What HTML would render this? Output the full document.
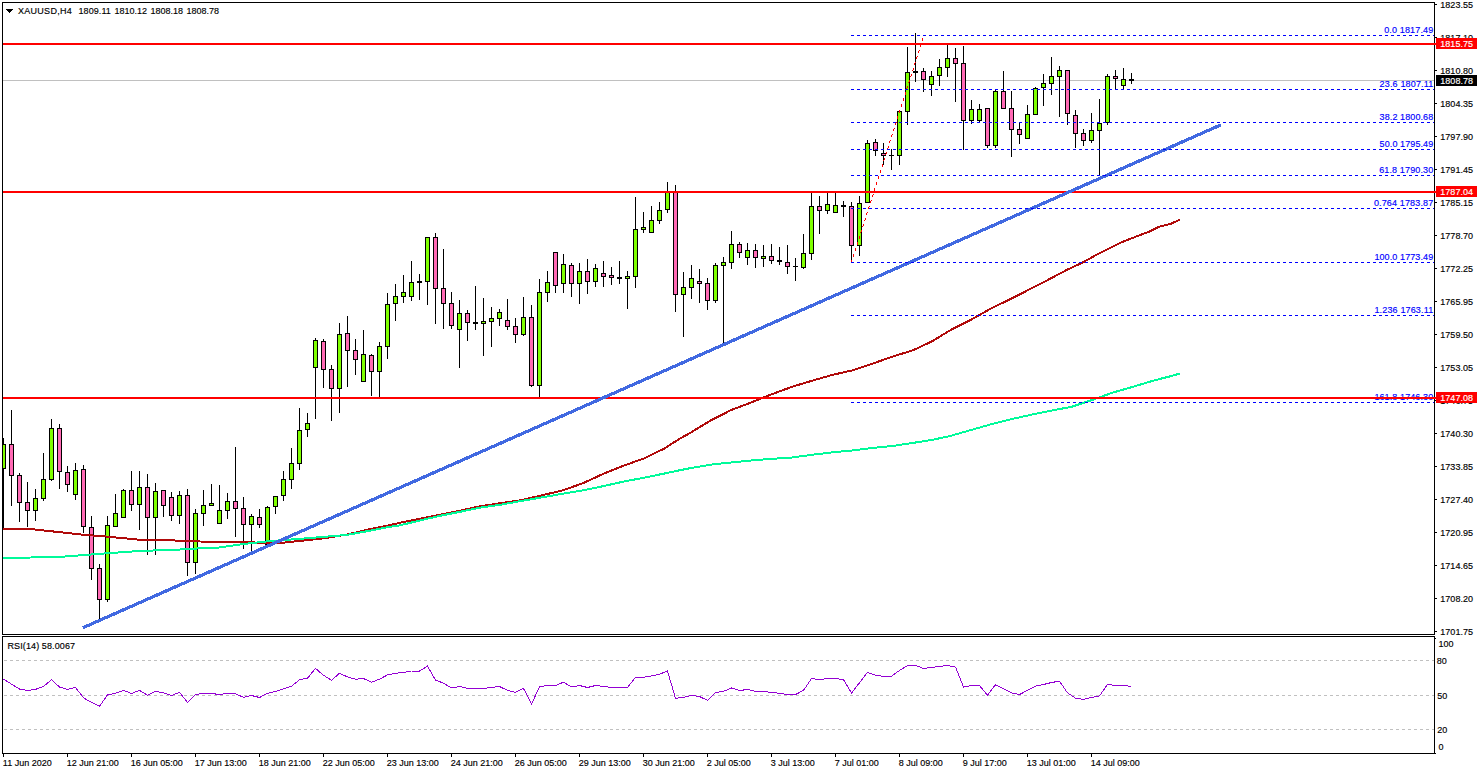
<!DOCTYPE html>
<html><head><meta charset="utf-8"><title>XAUUSD H4</title>
<style>html,body{margin:0;padding:0;background:#fff;width:1480px;height:774px;overflow:hidden;font-family:"Liberation Sans",sans-serif}</style>
</head><body>
<svg width="1480" height="774" viewBox="0 0 1480 774" style="position:absolute;left:0;top:0;display:block">
<defs><clipPath id="cm"><rect x="3" y="3" width="1431" height="631"/></clipPath></defs>
<g shape-rendering="crispEdges">
<rect x="2" y="2" width="1433" height="1" fill="#000"/>
<rect x="2" y="2" width="1" height="633" fill="#000"/>
<rect x="2" y="634" width="1433" height="1" fill="#000"/>
<rect x="1434" y="2" width="1" height="633" fill="#000"/>
<rect x="2" y="636" width="1433" height="1" fill="#000"/>
<rect x="2" y="636" width="1" height="118" fill="#000"/>
<rect x="1434" y="636" width="1" height="118" fill="#000"/>
<rect x="2" y="753" width="1433" height="1" fill="#000"/>
<rect x="1435" y="753" width="1" height="1" fill="#000"/>
<rect x="3" y="80" width="1431" height="1" fill="#C0C0C0"/>
<g clip-path="url(#cm)">
<rect x="3" y="438" width="1" height="90" fill="#000"/>
<rect x="1" y="444" width="5" height="25" fill="#000"/>
<rect x="2" y="445" width="3" height="23" fill="#7FFF00"/>
<rect x="11" y="410" width="1" height="96" fill="#000"/>
<rect x="9" y="444" width="5" height="32" fill="#000"/>
<rect x="10" y="445" width="3" height="30" fill="#FF69B4"/>
<rect x="19" y="473" width="1" height="49" fill="#000"/>
<rect x="17" y="475" width="5" height="28" fill="#000"/>
<rect x="18" y="476" width="3" height="26" fill="#FF69B4"/>
<rect x="27" y="482" width="1" height="45" fill="#000"/>
<rect x="25" y="502" width="5" height="9" fill="#000"/>
<rect x="26" y="503" width="3" height="7" fill="#FF69B4"/>
<rect x="35" y="489" width="1" height="32" fill="#000"/>
<rect x="33" y="498" width="5" height="13" fill="#000"/>
<rect x="34" y="499" width="3" height="11" fill="#7FFF00"/>
<rect x="43" y="453" width="1" height="48" fill="#000"/>
<rect x="41" y="479" width="5" height="20" fill="#000"/>
<rect x="42" y="480" width="3" height="18" fill="#7FFF00"/>
<rect x="51" y="419" width="1" height="62" fill="#000"/>
<rect x="49" y="428" width="5" height="52" fill="#000"/>
<rect x="50" y="429" width="3" height="50" fill="#7FFF00"/>
<rect x="59" y="424" width="1" height="65" fill="#000"/>
<rect x="57" y="428" width="5" height="44" fill="#000"/>
<rect x="58" y="429" width="3" height="42" fill="#FF69B4"/>
<rect x="67" y="466" width="1" height="26" fill="#000"/>
<rect x="65" y="472" width="5" height="13" fill="#000"/>
<rect x="66" y="473" width="3" height="11" fill="#FF69B4"/>
<rect x="75" y="463" width="1" height="37" fill="#000"/>
<rect x="73" y="470" width="5" height="25" fill="#000"/>
<rect x="74" y="471" width="3" height="23" fill="#7FFF00"/>
<rect x="83" y="465" width="1" height="68" fill="#000"/>
<rect x="81" y="469" width="5" height="58" fill="#000"/>
<rect x="82" y="470" width="3" height="56" fill="#FF69B4"/>
<rect x="91" y="516" width="1" height="64" fill="#000"/>
<rect x="89" y="527" width="5" height="42" fill="#000"/>
<rect x="90" y="528" width="3" height="40" fill="#FF69B4"/>
<rect x="99" y="564" width="1" height="55" fill="#000"/>
<rect x="97" y="568" width="5" height="32" fill="#000"/>
<rect x="98" y="569" width="3" height="30" fill="#FF69B4"/>
<rect x="107" y="516" width="1" height="86" fill="#000"/>
<rect x="105" y="525" width="5" height="75" fill="#000"/>
<rect x="106" y="526" width="3" height="73" fill="#7FFF00"/>
<rect x="115" y="494" width="1" height="33" fill="#000"/>
<rect x="113" y="513" width="5" height="14" fill="#000"/>
<rect x="114" y="514" width="3" height="12" fill="#7FFF00"/>
<rect x="123" y="489" width="1" height="29" fill="#000"/>
<rect x="121" y="490" width="5" height="28" fill="#000"/>
<rect x="122" y="491" width="3" height="26" fill="#7FFF00"/>
<rect x="131" y="471" width="1" height="40" fill="#000"/>
<rect x="129" y="490" width="5" height="15" fill="#000"/>
<rect x="130" y="491" width="3" height="13" fill="#FF69B4"/>
<rect x="139" y="471" width="1" height="59" fill="#000"/>
<rect x="137" y="487" width="5" height="18" fill="#000"/>
<rect x="138" y="488" width="3" height="16" fill="#7FFF00"/>
<rect x="147" y="474" width="1" height="81" fill="#000"/>
<rect x="145" y="487" width="5" height="31" fill="#000"/>
<rect x="146" y="488" width="3" height="29" fill="#FF69B4"/>
<rect x="155" y="483" width="1" height="72" fill="#000"/>
<rect x="153" y="491" width="5" height="27" fill="#000"/>
<rect x="154" y="492" width="3" height="25" fill="#7FFF00"/>
<rect x="163" y="490" width="1" height="27" fill="#000"/>
<rect x="161" y="490" width="5" height="16" fill="#000"/>
<rect x="162" y="491" width="3" height="14" fill="#FF69B4"/>
<rect x="171" y="492" width="1" height="29" fill="#000"/>
<rect x="169" y="497" width="5" height="19" fill="#000"/>
<rect x="170" y="498" width="3" height="17" fill="#FF69B4"/>
<rect x="179" y="491" width="1" height="33" fill="#000"/>
<rect x="177" y="495" width="5" height="21" fill="#000"/>
<rect x="178" y="496" width="3" height="19" fill="#7FFF00"/>
<rect x="187" y="489" width="1" height="87" fill="#000"/>
<rect x="185" y="495" width="5" height="68" fill="#000"/>
<rect x="186" y="496" width="3" height="66" fill="#FF69B4"/>
<rect x="195" y="509" width="1" height="65" fill="#000"/>
<rect x="193" y="513" width="5" height="50" fill="#000"/>
<rect x="194" y="514" width="3" height="48" fill="#7FFF00"/>
<rect x="203" y="490" width="1" height="36" fill="#000"/>
<rect x="201" y="505" width="5" height="9" fill="#000"/>
<rect x="202" y="506" width="3" height="7" fill="#7FFF00"/>
<rect x="211" y="484" width="1" height="22" fill="#000"/>
<rect x="209" y="503" width="5" height="3" fill="#000"/>
<rect x="210" y="504" width="3" height="1" fill="#7FFF00"/>
<rect x="219" y="485" width="1" height="39" fill="#000"/>
<rect x="217" y="510" width="5" height="14" fill="#000"/>
<rect x="218" y="511" width="3" height="12" fill="#7FFF00"/>
<rect x="227" y="493" width="1" height="26" fill="#000"/>
<rect x="225" y="501" width="5" height="10" fill="#000"/>
<rect x="226" y="502" width="3" height="8" fill="#7FFF00"/>
<rect x="235" y="447" width="1" height="90" fill="#000"/>
<rect x="233" y="501" width="5" height="8" fill="#000"/>
<rect x="234" y="502" width="3" height="6" fill="#FF69B4"/>
<rect x="243" y="497" width="1" height="52" fill="#000"/>
<rect x="241" y="508" width="5" height="17" fill="#000"/>
<rect x="242" y="509" width="3" height="15" fill="#FF69B4"/>
<rect x="251" y="514" width="1" height="37" fill="#000"/>
<rect x="249" y="516" width="5" height="9" fill="#000"/>
<rect x="250" y="517" width="3" height="7" fill="#7FFF00"/>
<rect x="259" y="509" width="1" height="19" fill="#000"/>
<rect x="257" y="517" width="5" height="8" fill="#000"/>
<rect x="258" y="518" width="3" height="6" fill="#FF69B4"/>
<rect x="267" y="506" width="1" height="39" fill="#000"/>
<rect x="265" y="507" width="5" height="38" fill="#000"/>
<rect x="266" y="508" width="3" height="36" fill="#7FFF00"/>
<rect x="275" y="496" width="1" height="18" fill="#000"/>
<rect x="273" y="496" width="5" height="11" fill="#000"/>
<rect x="274" y="497" width="3" height="9" fill="#7FFF00"/>
<rect x="283" y="471" width="1" height="30" fill="#000"/>
<rect x="281" y="479" width="5" height="17" fill="#000"/>
<rect x="282" y="480" width="3" height="15" fill="#7FFF00"/>
<rect x="291" y="448" width="1" height="41" fill="#000"/>
<rect x="289" y="463" width="5" height="17" fill="#000"/>
<rect x="290" y="464" width="3" height="15" fill="#7FFF00"/>
<rect x="299" y="408" width="1" height="62" fill="#000"/>
<rect x="297" y="430" width="5" height="34" fill="#000"/>
<rect x="298" y="431" width="3" height="32" fill="#7FFF00"/>
<rect x="307" y="413" width="1" height="24" fill="#000"/>
<rect x="305" y="423" width="5" height="7" fill="#000"/>
<rect x="306" y="424" width="3" height="5" fill="#7FFF00"/>
<rect x="315" y="338" width="1" height="81" fill="#000"/>
<rect x="313" y="340" width="5" height="28" fill="#000"/>
<rect x="314" y="341" width="3" height="26" fill="#7FFF00"/>
<rect x="323" y="339" width="1" height="49" fill="#000"/>
<rect x="321" y="341" width="5" height="29" fill="#000"/>
<rect x="322" y="342" width="3" height="27" fill="#FF69B4"/>
<rect x="331" y="365" width="1" height="56" fill="#000"/>
<rect x="329" y="369" width="5" height="20" fill="#000"/>
<rect x="330" y="370" width="3" height="18" fill="#FF69B4"/>
<rect x="339" y="323" width="1" height="90" fill="#000"/>
<rect x="337" y="334" width="5" height="55" fill="#000"/>
<rect x="338" y="335" width="3" height="53" fill="#7FFF00"/>
<rect x="347" y="316" width="1" height="71" fill="#000"/>
<rect x="345" y="333" width="5" height="18" fill="#000"/>
<rect x="346" y="334" width="3" height="16" fill="#FF69B4"/>
<rect x="355" y="339" width="1" height="36" fill="#000"/>
<rect x="353" y="350" width="5" height="10" fill="#000"/>
<rect x="354" y="351" width="3" height="8" fill="#FF69B4"/>
<rect x="363" y="330" width="1" height="52" fill="#000"/>
<rect x="361" y="354" width="5" height="28" fill="#000"/>
<rect x="362" y="355" width="3" height="26" fill="#7FFF00"/>
<rect x="371" y="354" width="1" height="42" fill="#000"/>
<rect x="369" y="355" width="5" height="17" fill="#000"/>
<rect x="370" y="356" width="3" height="15" fill="#FF69B4"/>
<rect x="379" y="342" width="1" height="55" fill="#000"/>
<rect x="377" y="346" width="5" height="26" fill="#000"/>
<rect x="378" y="347" width="3" height="24" fill="#7FFF00"/>
<rect x="387" y="293" width="1" height="66" fill="#000"/>
<rect x="385" y="304" width="5" height="43" fill="#000"/>
<rect x="386" y="305" width="3" height="41" fill="#7FFF00"/>
<rect x="395" y="284" width="1" height="37" fill="#000"/>
<rect x="393" y="296" width="5" height="8" fill="#000"/>
<rect x="394" y="297" width="3" height="6" fill="#7FFF00"/>
<rect x="403" y="275" width="1" height="28" fill="#000"/>
<rect x="401" y="292" width="5" height="5" fill="#000"/>
<rect x="402" y="293" width="3" height="3" fill="#7FFF00"/>
<rect x="411" y="261" width="1" height="40" fill="#000"/>
<rect x="409" y="282" width="5" height="15" fill="#000"/>
<rect x="410" y="283" width="3" height="13" fill="#7FFF00"/>
<rect x="419" y="274" width="1" height="26" fill="#000"/>
<rect x="417" y="281" width="5" height="2" fill="#000"/>
<rect x="427" y="237" width="1" height="68" fill="#000"/>
<rect x="425" y="237" width="5" height="45" fill="#000"/>
<rect x="426" y="238" width="3" height="43" fill="#7FFF00"/>
<rect x="435" y="233" width="1" height="91" fill="#000"/>
<rect x="433" y="237" width="5" height="52" fill="#000"/>
<rect x="434" y="238" width="3" height="50" fill="#FF69B4"/>
<rect x="443" y="249" width="1" height="80" fill="#000"/>
<rect x="441" y="288" width="5" height="16" fill="#000"/>
<rect x="442" y="289" width="3" height="14" fill="#FF69B4"/>
<rect x="451" y="292" width="1" height="37" fill="#000"/>
<rect x="449" y="303" width="5" height="23" fill="#000"/>
<rect x="450" y="304" width="3" height="21" fill="#FF69B4"/>
<rect x="459" y="300" width="1" height="68" fill="#000"/>
<rect x="457" y="313" width="5" height="17" fill="#000"/>
<rect x="458" y="314" width="3" height="15" fill="#7FFF00"/>
<rect x="467" y="310" width="1" height="31" fill="#000"/>
<rect x="465" y="313" width="5" height="10" fill="#000"/>
<rect x="466" y="314" width="3" height="8" fill="#FF69B4"/>
<rect x="475" y="286" width="1" height="44" fill="#000"/>
<rect x="473" y="322" width="5" height="2" fill="#000"/>
<rect x="483" y="298" width="1" height="58" fill="#000"/>
<rect x="481" y="321" width="5" height="3" fill="#000"/>
<rect x="482" y="322" width="3" height="1" fill="#7FFF00"/>
<rect x="491" y="307" width="1" height="40" fill="#000"/>
<rect x="489" y="318" width="5" height="4" fill="#000"/>
<rect x="490" y="319" width="3" height="2" fill="#7FFF00"/>
<rect x="499" y="309" width="1" height="17" fill="#000"/>
<rect x="497" y="312" width="5" height="7" fill="#000"/>
<rect x="498" y="313" width="3" height="5" fill="#7FFF00"/>
<rect x="507" y="299" width="1" height="31" fill="#000"/>
<rect x="505" y="320" width="5" height="7" fill="#000"/>
<rect x="506" y="321" width="3" height="5" fill="#FF69B4"/>
<rect x="515" y="318" width="1" height="25" fill="#000"/>
<rect x="513" y="326" width="5" height="9" fill="#000"/>
<rect x="514" y="327" width="3" height="7" fill="#FF69B4"/>
<rect x="523" y="297" width="1" height="39" fill="#000"/>
<rect x="521" y="317" width="5" height="18" fill="#000"/>
<rect x="522" y="318" width="3" height="16" fill="#7FFF00"/>
<rect x="531" y="305" width="1" height="82" fill="#000"/>
<rect x="529" y="317" width="5" height="69" fill="#000"/>
<rect x="530" y="318" width="3" height="67" fill="#FF69B4"/>
<rect x="539" y="279" width="1" height="118" fill="#000"/>
<rect x="537" y="292" width="5" height="94" fill="#000"/>
<rect x="538" y="293" width="3" height="92" fill="#7FFF00"/>
<rect x="547" y="271" width="1" height="31" fill="#000"/>
<rect x="545" y="282" width="5" height="11" fill="#000"/>
<rect x="546" y="283" width="3" height="9" fill="#7FFF00"/>
<rect x="555" y="252" width="1" height="41" fill="#000"/>
<rect x="553" y="252" width="5" height="34" fill="#000"/>
<rect x="554" y="253" width="3" height="32" fill="#FF69B4"/>
<rect x="563" y="254" width="1" height="39" fill="#000"/>
<rect x="561" y="264" width="5" height="20" fill="#000"/>
<rect x="562" y="265" width="3" height="18" fill="#7FFF00"/>
<rect x="571" y="263" width="1" height="34" fill="#000"/>
<rect x="569" y="265" width="5" height="19" fill="#000"/>
<rect x="570" y="266" width="3" height="17" fill="#FF69B4"/>
<rect x="579" y="263" width="1" height="41" fill="#000"/>
<rect x="577" y="271" width="5" height="13" fill="#000"/>
<rect x="578" y="272" width="3" height="11" fill="#7FFF00"/>
<rect x="587" y="259" width="1" height="35" fill="#000"/>
<rect x="585" y="271" width="5" height="11" fill="#000"/>
<rect x="586" y="272" width="3" height="9" fill="#FF69B4"/>
<rect x="595" y="264" width="1" height="23" fill="#000"/>
<rect x="593" y="268" width="5" height="14" fill="#000"/>
<rect x="594" y="269" width="3" height="12" fill="#7FFF00"/>
<rect x="603" y="261" width="1" height="26" fill="#000"/>
<rect x="601" y="273" width="5" height="4" fill="#000"/>
<rect x="602" y="274" width="3" height="2" fill="#FF69B4"/>
<rect x="611" y="267" width="1" height="18" fill="#000"/>
<rect x="609" y="275" width="5" height="3" fill="#000"/>
<rect x="610" y="276" width="3" height="1" fill="#FF69B4"/>
<rect x="619" y="261" width="1" height="23" fill="#000"/>
<rect x="617" y="277" width="5" height="2" fill="#000"/>
<rect x="627" y="271" width="1" height="38" fill="#000"/>
<rect x="625" y="276" width="5" height="3" fill="#000"/>
<rect x="626" y="277" width="3" height="1" fill="#7FFF00"/>
<rect x="635" y="197" width="1" height="91" fill="#000"/>
<rect x="633" y="229" width="5" height="48" fill="#000"/>
<rect x="634" y="230" width="3" height="46" fill="#7FFF00"/>
<rect x="643" y="212" width="1" height="21" fill="#000"/>
<rect x="641" y="227" width="5" height="3" fill="#000"/>
<rect x="642" y="228" width="3" height="1" fill="#7FFF00"/>
<rect x="651" y="206" width="1" height="27" fill="#000"/>
<rect x="649" y="220" width="5" height="13" fill="#000"/>
<rect x="650" y="221" width="3" height="11" fill="#7FFF00"/>
<rect x="659" y="202" width="1" height="22" fill="#000"/>
<rect x="657" y="210" width="5" height="11" fill="#000"/>
<rect x="658" y="211" width="3" height="9" fill="#7FFF00"/>
<rect x="667" y="182" width="1" height="31" fill="#000"/>
<rect x="665" y="192" width="5" height="18" fill="#000"/>
<rect x="666" y="193" width="3" height="16" fill="#7FFF00"/>
<rect x="675" y="185" width="1" height="127" fill="#000"/>
<rect x="673" y="192" width="5" height="103" fill="#000"/>
<rect x="674" y="193" width="3" height="101" fill="#FF69B4"/>
<rect x="683" y="272" width="1" height="65" fill="#000"/>
<rect x="681" y="287" width="5" height="8" fill="#000"/>
<rect x="682" y="288" width="3" height="6" fill="#7FFF00"/>
<rect x="691" y="265" width="1" height="34" fill="#000"/>
<rect x="689" y="278" width="5" height="10" fill="#000"/>
<rect x="690" y="279" width="3" height="8" fill="#7FFF00"/>
<rect x="699" y="269" width="1" height="34" fill="#000"/>
<rect x="697" y="281" width="5" height="3" fill="#000"/>
<rect x="698" y="282" width="3" height="1" fill="#FF69B4"/>
<rect x="707" y="278" width="1" height="32" fill="#000"/>
<rect x="705" y="283" width="5" height="18" fill="#000"/>
<rect x="706" y="284" width="3" height="16" fill="#FF69B4"/>
<rect x="715" y="263" width="1" height="40" fill="#000"/>
<rect x="713" y="265" width="5" height="36" fill="#000"/>
<rect x="714" y="266" width="3" height="34" fill="#7FFF00"/>
<rect x="723" y="257" width="1" height="86" fill="#000"/>
<rect x="721" y="262" width="5" height="4" fill="#000"/>
<rect x="722" y="263" width="3" height="2" fill="#7FFF00"/>
<rect x="731" y="231" width="1" height="38" fill="#000"/>
<rect x="729" y="244" width="5" height="19" fill="#000"/>
<rect x="730" y="245" width="3" height="17" fill="#7FFF00"/>
<rect x="739" y="242" width="1" height="16" fill="#000"/>
<rect x="737" y="244" width="5" height="9" fill="#000"/>
<rect x="738" y="245" width="3" height="7" fill="#FF69B4"/>
<rect x="747" y="243" width="1" height="22" fill="#000"/>
<rect x="745" y="250" width="5" height="8" fill="#000"/>
<rect x="746" y="251" width="3" height="6" fill="#7FFF00"/>
<rect x="755" y="244" width="1" height="24" fill="#000"/>
<rect x="753" y="250" width="5" height="8" fill="#000"/>
<rect x="754" y="251" width="3" height="6" fill="#FF69B4"/>
<rect x="763" y="245" width="1" height="22" fill="#000"/>
<rect x="761" y="256" width="5" height="3" fill="#000"/>
<rect x="762" y="257" width="3" height="1" fill="#7FFF00"/>
<rect x="771" y="244" width="1" height="20" fill="#000"/>
<rect x="769" y="256" width="5" height="5" fill="#000"/>
<rect x="770" y="257" width="3" height="3" fill="#FF69B4"/>
<rect x="779" y="247" width="1" height="18" fill="#000"/>
<rect x="777" y="260" width="5" height="2" fill="#000"/>
<rect x="787" y="245" width="1" height="29" fill="#000"/>
<rect x="785" y="262" width="5" height="5" fill="#000"/>
<rect x="786" y="263" width="3" height="3" fill="#FF69B4"/>
<rect x="795" y="258" width="1" height="23" fill="#000"/>
<rect x="793" y="266" width="5" height="1" fill="#000"/>
<rect x="803" y="234" width="1" height="35" fill="#000"/>
<rect x="801" y="253" width="5" height="15" fill="#000"/>
<rect x="802" y="254" width="3" height="13" fill="#7FFF00"/>
<rect x="811" y="193" width="1" height="67" fill="#000"/>
<rect x="809" y="206" width="5" height="48" fill="#000"/>
<rect x="810" y="207" width="3" height="46" fill="#7FFF00"/>
<rect x="819" y="196" width="1" height="38" fill="#000"/>
<rect x="817" y="206" width="5" height="5" fill="#000"/>
<rect x="818" y="207" width="3" height="3" fill="#FF69B4"/>
<rect x="827" y="193" width="1" height="21" fill="#000"/>
<rect x="825" y="204" width="5" height="7" fill="#000"/>
<rect x="826" y="205" width="3" height="5" fill="#7FFF00"/>
<rect x="835" y="193" width="1" height="20" fill="#000"/>
<rect x="833" y="205" width="5" height="8" fill="#000"/>
<rect x="834" y="206" width="3" height="6" fill="#7FFF00"/>
<rect x="843" y="201" width="1" height="16" fill="#000"/>
<rect x="841" y="205" width="5" height="2" fill="#000"/>
<rect x="851" y="202" width="1" height="60" fill="#000"/>
<rect x="849" y="206" width="5" height="40" fill="#000"/>
<rect x="850" y="207" width="3" height="38" fill="#FF69B4"/>
<rect x="859" y="196" width="1" height="60" fill="#000"/>
<rect x="857" y="203" width="5" height="43" fill="#000"/>
<rect x="858" y="204" width="3" height="41" fill="#7FFF00"/>
<rect x="867" y="140" width="1" height="63" fill="#000"/>
<rect x="865" y="143" width="5" height="60" fill="#000"/>
<rect x="866" y="144" width="3" height="58" fill="#7FFF00"/>
<rect x="875" y="139" width="1" height="17" fill="#000"/>
<rect x="873" y="142" width="5" height="9" fill="#000"/>
<rect x="874" y="143" width="3" height="7" fill="#FF69B4"/>
<rect x="883" y="143" width="1" height="22" fill="#000"/>
<rect x="881" y="153" width="5" height="3" fill="#000"/>
<rect x="882" y="154" width="3" height="1" fill="#FF69B4"/>
<rect x="891" y="149" width="1" height="21" fill="#000"/>
<rect x="889" y="155" width="5" height="1" fill="#000"/>
<rect x="899" y="111" width="1" height="54" fill="#000"/>
<rect x="897" y="111" width="5" height="45" fill="#000"/>
<rect x="898" y="112" width="3" height="43" fill="#7FFF00"/>
<rect x="907" y="47" width="1" height="78" fill="#000"/>
<rect x="905" y="72" width="5" height="40" fill="#000"/>
<rect x="906" y="73" width="3" height="38" fill="#7FFF00"/>
<rect x="915" y="33" width="1" height="49" fill="#000"/>
<rect x="913" y="71" width="5" height="2" fill="#000"/>
<rect x="923" y="68" width="1" height="24" fill="#000"/>
<rect x="921" y="71" width="5" height="9" fill="#000"/>
<rect x="922" y="72" width="3" height="7" fill="#FF69B4"/>
<rect x="931" y="71" width="1" height="25" fill="#000"/>
<rect x="929" y="76" width="5" height="9" fill="#000"/>
<rect x="930" y="77" width="3" height="7" fill="#7FFF00"/>
<rect x="939" y="59" width="1" height="27" fill="#000"/>
<rect x="937" y="67" width="5" height="9" fill="#000"/>
<rect x="938" y="68" width="3" height="7" fill="#7FFF00"/>
<rect x="947" y="45" width="1" height="32" fill="#000"/>
<rect x="945" y="58" width="5" height="10" fill="#000"/>
<rect x="946" y="59" width="3" height="8" fill="#7FFF00"/>
<rect x="955" y="48" width="1" height="54" fill="#000"/>
<rect x="953" y="58" width="5" height="6" fill="#000"/>
<rect x="954" y="59" width="3" height="4" fill="#FF69B4"/>
<rect x="963" y="46" width="1" height="104" fill="#000"/>
<rect x="961" y="63" width="5" height="58" fill="#000"/>
<rect x="962" y="64" width="3" height="56" fill="#FF69B4"/>
<rect x="971" y="100" width="1" height="24" fill="#000"/>
<rect x="969" y="109" width="5" height="12" fill="#000"/>
<rect x="970" y="110" width="3" height="10" fill="#7FFF00"/>
<rect x="979" y="104" width="1" height="18" fill="#000"/>
<rect x="977" y="109" width="5" height="12" fill="#000"/>
<rect x="978" y="110" width="3" height="10" fill="#7FFF00"/>
<rect x="987" y="108" width="1" height="40" fill="#000"/>
<rect x="985" y="108" width="5" height="38" fill="#000"/>
<rect x="986" y="109" width="3" height="36" fill="#FF69B4"/>
<rect x="995" y="90" width="1" height="58" fill="#000"/>
<rect x="993" y="91" width="5" height="55" fill="#000"/>
<rect x="994" y="92" width="3" height="53" fill="#7FFF00"/>
<rect x="1003" y="71" width="1" height="38" fill="#000"/>
<rect x="1001" y="91" width="5" height="18" fill="#000"/>
<rect x="1002" y="92" width="3" height="16" fill="#FF69B4"/>
<rect x="1011" y="91" width="1" height="66" fill="#000"/>
<rect x="1009" y="108" width="5" height="22" fill="#000"/>
<rect x="1010" y="109" width="3" height="20" fill="#FF69B4"/>
<rect x="1019" y="123" width="1" height="21" fill="#000"/>
<rect x="1017" y="129" width="5" height="6" fill="#000"/>
<rect x="1018" y="130" width="3" height="4" fill="#FF69B4"/>
<rect x="1027" y="105" width="1" height="34" fill="#000"/>
<rect x="1025" y="114" width="5" height="25" fill="#000"/>
<rect x="1026" y="115" width="3" height="23" fill="#7FFF00"/>
<rect x="1035" y="87" width="1" height="28" fill="#000"/>
<rect x="1033" y="88" width="5" height="27" fill="#000"/>
<rect x="1034" y="89" width="3" height="25" fill="#7FFF00"/>
<rect x="1043" y="74" width="1" height="32" fill="#000"/>
<rect x="1041" y="83" width="5" height="5" fill="#000"/>
<rect x="1042" y="84" width="3" height="3" fill="#7FFF00"/>
<rect x="1051" y="57" width="1" height="38" fill="#000"/>
<rect x="1049" y="76" width="5" height="8" fill="#000"/>
<rect x="1050" y="77" width="3" height="6" fill="#7FFF00"/>
<rect x="1059" y="66" width="1" height="51" fill="#000"/>
<rect x="1057" y="70" width="5" height="7" fill="#000"/>
<rect x="1058" y="71" width="3" height="5" fill="#7FFF00"/>
<rect x="1067" y="70" width="1" height="55" fill="#000"/>
<rect x="1065" y="70" width="5" height="44" fill="#000"/>
<rect x="1066" y="71" width="3" height="42" fill="#FF69B4"/>
<rect x="1075" y="110" width="1" height="38" fill="#000"/>
<rect x="1073" y="115" width="5" height="19" fill="#000"/>
<rect x="1074" y="116" width="3" height="17" fill="#FF69B4"/>
<rect x="1083" y="129" width="1" height="17" fill="#000"/>
<rect x="1081" y="133" width="5" height="8" fill="#000"/>
<rect x="1082" y="134" width="3" height="6" fill="#FF69B4"/>
<rect x="1091" y="113" width="1" height="30" fill="#000"/>
<rect x="1089" y="130" width="5" height="11" fill="#000"/>
<rect x="1090" y="131" width="3" height="9" fill="#7FFF00"/>
<rect x="1099" y="99" width="1" height="76" fill="#000"/>
<rect x="1097" y="123" width="5" height="8" fill="#000"/>
<rect x="1098" y="124" width="3" height="6" fill="#7FFF00"/>
<rect x="1107" y="74" width="1" height="51" fill="#000"/>
<rect x="1105" y="76" width="5" height="47" fill="#000"/>
<rect x="1106" y="77" width="3" height="45" fill="#7FFF00"/>
<rect x="1115" y="70" width="1" height="20" fill="#000"/>
<rect x="1113" y="76" width="5" height="3" fill="#000"/>
<rect x="1114" y="77" width="3" height="1" fill="#FF69B4"/>
<rect x="1123" y="68" width="1" height="22" fill="#000"/>
<rect x="1121" y="79" width="5" height="7" fill="#000"/>
<rect x="1122" y="80" width="3" height="5" fill="#7FFF00"/>
<rect x="1131" y="73" width="1" height="11" fill="#000"/>
<rect x="1129" y="79" width="5" height="2" fill="#000"/>
</g>
</g>
<g shape-rendering="crispEdges" fill="none" clip-path="url(#cm)">
<polyline points="3.0,528.8 35.0,529.5 83.0,534.7 107.0,536.6 139.0,539.7 179.0,540.6 200.0,541.5 243.0,542.0 267.0,543.0 283.0,542.7 299.0,541.0 323.0,538.4 347.0,534.6 371.0,528.9 390.0,525.1 400.0,522.7 420.6,518.7 441.0,514.6 461.0,510.5 481.0,506.1 502.0,503.0 522.0,500.0 542.0,495.3 563.0,490.3 583.0,483.2 603.0,474.0 623.0,465.9 644.0,458.4 664.0,448.7 680.0,438.5 690.0,433.0 711.0,420.3 731.0,410.1 751.0,402.6 771.0,394.5 792.0,386.8 812.0,380.7 832.0,375.0 853.0,370.2 873.0,363.5 893.0,356.4 913.0,350.3 932.0,341.3 950.0,330.4 971.0,319.7 991.0,308.5 1011.0,298.8 1031.0,288.6 1040.0,284.1 1053.6,276.9 1067.1,269.8 1083.4,262.1 1097.0,254.5 1107.8,249.1 1121.4,242.3 1135.0,237.0 1148.5,231.9 1159.4,226.7 1170.3,224.0 1180.0,219.7" stroke="#B00A0A" stroke-width="2" stroke-linejoin="round"/>
<polyline points="3.0,558.0 59.0,557.0 107.0,553.3 139.0,551.0 179.0,549.6 190.0,548.8 219.0,547.5 243.0,544.1 267.0,541.4 299.0,538.9 323.0,536.9 347.0,534.9 371.0,530.5 385.0,527.6 400.0,525.3 420.6,520.3 441.0,515.6 461.0,511.6 481.0,507.5 502.0,504.5 522.0,500.8 542.0,497.4 563.0,493.7 583.0,490.3 603.0,486.2 623.0,481.7 644.0,477.7 664.0,473.6 680.0,470.2 690.0,468.2 711.0,464.6 731.0,462.5 751.0,460.5 771.0,458.9 792.0,457.5 812.0,454.8 832.0,452.4 853.0,450.4 873.0,447.9 893.0,445.9 913.0,442.9 932.0,439.9 950.0,436.0 971.0,430.0 991.0,424.3 1011.0,419.2 1031.0,414.8 1052.0,410.5 1072.0,406.7 1092.0,400.0 1113.0,392.5 1133.0,386.8 1153.0,380.7 1173.0,375.6 1180.0,373.5" stroke="#00FA9A" stroke-width="2" stroke-linejoin="round"/>
<rect x="3" y="43" width="1431" height="2" fill="#FF0000"/>
<rect x="3" y="191" width="1431" height="2" fill="#FF0000"/>
<rect x="3" y="397" width="1431" height="2" fill="#FF0000"/>
<line x1="83" y1="627.7" x2="1221" y2="124.8" stroke="#4169E1" stroke-width="3.2"/>
<line x1="851" y1="35.5" x2="1434" y2="35.5" stroke="#0000FF" stroke-width="1" stroke-dasharray="3,3"/>
<line x1="851" y1="89.5" x2="1434" y2="89.5" stroke="#0000FF" stroke-width="1" stroke-dasharray="3,3"/>
<line x1="851" y1="122.5" x2="1434" y2="122.5" stroke="#0000FF" stroke-width="1" stroke-dasharray="3,3"/>
<line x1="851" y1="149.5" x2="1434" y2="149.5" stroke="#0000FF" stroke-width="1" stroke-dasharray="3,3"/>
<line x1="851" y1="175.5" x2="1434" y2="175.5" stroke="#0000FF" stroke-width="1" stroke-dasharray="3,3"/>
<line x1="851" y1="208.5" x2="1434" y2="208.5" stroke="#0000FF" stroke-width="1" stroke-dasharray="3,3"/>
<line x1="851" y1="262.5" x2="1434" y2="262.5" stroke="#0000FF" stroke-width="1" stroke-dasharray="3,3"/>
<line x1="851" y1="315.5" x2="1434" y2="315.5" stroke="#0000FF" stroke-width="1" stroke-dasharray="3,3"/>
<line x1="851" y1="402.5" x2="1434" y2="402.5" stroke="#0000FF" stroke-width="1" stroke-dasharray="3,3"/>
<rect x="922" y="38" width="1" height="1" fill="#FF0000"/>
<rect x="922" y="39" width="1" height="1" fill="#FF0000"/>
<rect x="922" y="40" width="1" height="1" fill="#FF0000"/>
<rect x="920" y="44" width="1" height="1" fill="#FF0000"/>
<rect x="920" y="45" width="1" height="1" fill="#FF0000"/>
<rect x="920" y="46" width="1" height="1" fill="#FF0000"/>
<rect x="919" y="50" width="1" height="1" fill="#FF0000"/>
<rect x="918" y="51" width="1" height="1" fill="#FF0000"/>
<rect x="918" y="52" width="1" height="1" fill="#FF0000"/>
<rect x="917" y="56" width="1" height="1" fill="#FF0000"/>
<rect x="916" y="57" width="1" height="1" fill="#FF0000"/>
<rect x="916" y="58" width="1" height="1" fill="#FF0000"/>
<rect x="915" y="62" width="1" height="1" fill="#FF0000"/>
<rect x="914" y="63" width="1" height="1" fill="#FF0000"/>
<rect x="914" y="64" width="1" height="1" fill="#FF0000"/>
<rect x="913" y="68" width="1" height="1" fill="#FF0000"/>
<rect x="913" y="69" width="1" height="1" fill="#FF0000"/>
<rect x="912" y="70" width="1" height="1" fill="#FF0000"/>
<rect x="911" y="74" width="1" height="1" fill="#FF0000"/>
<rect x="911" y="75" width="1" height="1" fill="#FF0000"/>
<rect x="910" y="76" width="1" height="1" fill="#FF0000"/>
<rect x="909" y="80" width="1" height="1" fill="#FF0000"/>
<rect x="909" y="81" width="1" height="1" fill="#FF0000"/>
<rect x="908" y="82" width="1" height="1" fill="#FF0000"/>
<rect x="907" y="86" width="1" height="1" fill="#FF0000"/>
<rect x="907" y="87" width="1" height="1" fill="#FF0000"/>
<rect x="906" y="88" width="1" height="1" fill="#FF0000"/>
<rect x="905" y="92" width="1" height="1" fill="#FF0000"/>
<rect x="905" y="93" width="1" height="1" fill="#FF0000"/>
<rect x="905" y="94" width="1" height="1" fill="#FF0000"/>
<rect x="903" y="98" width="1" height="1" fill="#FF0000"/>
<rect x="903" y="99" width="1" height="1" fill="#FF0000"/>
<rect x="903" y="100" width="1" height="1" fill="#FF0000"/>
<rect x="901" y="104" width="1" height="1" fill="#FF0000"/>
<rect x="901" y="105" width="1" height="1" fill="#FF0000"/>
<rect x="901" y="106" width="1" height="1" fill="#FF0000"/>
<rect x="899" y="110" width="1" height="1" fill="#FF0000"/>
<rect x="899" y="111" width="1" height="1" fill="#FF0000"/>
<rect x="899" y="112" width="1" height="1" fill="#FF0000"/>
<rect x="897" y="116" width="1" height="1" fill="#FF0000"/>
<rect x="897" y="117" width="1" height="1" fill="#FF0000"/>
<rect x="897" y="118" width="1" height="1" fill="#FF0000"/>
<rect x="896" y="122" width="1" height="1" fill="#FF0000"/>
<rect x="895" y="123" width="1" height="1" fill="#FF0000"/>
<rect x="895" y="124" width="1" height="1" fill="#FF0000"/>
<rect x="894" y="128" width="1" height="1" fill="#FF0000"/>
<rect x="893" y="129" width="1" height="1" fill="#FF0000"/>
<rect x="893" y="130" width="1" height="1" fill="#FF0000"/>
<rect x="892" y="134" width="1" height="1" fill="#FF0000"/>
<rect x="891" y="135" width="1" height="1" fill="#FF0000"/>
<rect x="891" y="136" width="1" height="1" fill="#FF0000"/>
<rect x="890" y="140" width="1" height="1" fill="#FF0000"/>
<rect x="889" y="141" width="1" height="1" fill="#FF0000"/>
<rect x="889" y="142" width="1" height="1" fill="#FF0000"/>
<rect x="888" y="146" width="1" height="1" fill="#FF0000"/>
<rect x="888" y="147" width="1" height="1" fill="#FF0000"/>
<rect x="887" y="148" width="1" height="1" fill="#FF0000"/>
<rect x="886" y="152" width="1" height="1" fill="#FF0000"/>
<rect x="886" y="153" width="1" height="1" fill="#FF0000"/>
<rect x="885" y="154" width="1" height="1" fill="#FF0000"/>
<rect x="884" y="158" width="1" height="1" fill="#FF0000"/>
<rect x="884" y="159" width="1" height="1" fill="#FF0000"/>
<rect x="883" y="160" width="1" height="1" fill="#FF0000"/>
<rect x="882" y="164" width="1" height="1" fill="#FF0000"/>
<rect x="882" y="165" width="1" height="1" fill="#FF0000"/>
<rect x="882" y="166" width="1" height="1" fill="#FF0000"/>
<rect x="880" y="170" width="1" height="1" fill="#FF0000"/>
<rect x="880" y="171" width="1" height="1" fill="#FF0000"/>
<rect x="880" y="172" width="1" height="1" fill="#FF0000"/>
<rect x="878" y="176" width="1" height="1" fill="#FF0000"/>
<rect x="878" y="177" width="1" height="1" fill="#FF0000"/>
<rect x="878" y="178" width="1" height="1" fill="#FF0000"/>
<rect x="876" y="182" width="1" height="1" fill="#FF0000"/>
<rect x="876" y="183" width="1" height="1" fill="#FF0000"/>
<rect x="876" y="184" width="1" height="1" fill="#FF0000"/>
<rect x="874" y="188" width="1" height="1" fill="#FF0000"/>
<rect x="874" y="189" width="1" height="1" fill="#FF0000"/>
<rect x="874" y="190" width="1" height="1" fill="#FF0000"/>
<rect x="873" y="194" width="1" height="1" fill="#FF0000"/>
<rect x="872" y="195" width="1" height="1" fill="#FF0000"/>
<rect x="872" y="196" width="1" height="1" fill="#FF0000"/>
<rect x="871" y="200" width="1" height="1" fill="#FF0000"/>
<rect x="870" y="201" width="1" height="1" fill="#FF0000"/>
<rect x="870" y="202" width="1" height="1" fill="#FF0000"/>
<rect x="869" y="206" width="1" height="1" fill="#FF0000"/>
<rect x="868" y="207" width="1" height="1" fill="#FF0000"/>
<rect x="868" y="208" width="1" height="1" fill="#FF0000"/>
<rect x="867" y="212" width="1" height="1" fill="#FF0000"/>
<rect x="866" y="213" width="1" height="1" fill="#FF0000"/>
<rect x="866" y="214" width="1" height="1" fill="#FF0000"/>
<rect x="865" y="218" width="1" height="1" fill="#FF0000"/>
<rect x="865" y="219" width="1" height="1" fill="#FF0000"/>
<rect x="864" y="220" width="1" height="1" fill="#FF0000"/>
<rect x="863" y="224" width="1" height="1" fill="#FF0000"/>
<rect x="863" y="225" width="1" height="1" fill="#FF0000"/>
<rect x="862" y="226" width="1" height="1" fill="#FF0000"/>
<rect x="861" y="230" width="1" height="1" fill="#FF0000"/>
<rect x="861" y="231" width="1" height="1" fill="#FF0000"/>
<rect x="860" y="232" width="1" height="1" fill="#FF0000"/>
<rect x="859" y="236" width="1" height="1" fill="#FF0000"/>
<rect x="859" y="237" width="1" height="1" fill="#FF0000"/>
<rect x="859" y="238" width="1" height="1" fill="#FF0000"/>
<rect x="857" y="242" width="1" height="1" fill="#FF0000"/>
<rect x="857" y="243" width="1" height="1" fill="#FF0000"/>
<rect x="857" y="244" width="1" height="1" fill="#FF0000"/>
<rect x="855" y="248" width="1" height="1" fill="#FF0000"/>
<rect x="855" y="249" width="1" height="1" fill="#FF0000"/>
<rect x="855" y="250" width="1" height="1" fill="#FF0000"/>
<rect x="853" y="254" width="1" height="1" fill="#FF0000"/>
<rect x="853" y="255" width="1" height="1" fill="#FF0000"/>
<rect x="853" y="256" width="1" height="1" fill="#FF0000"/>
<rect x="851" y="260" width="1" height="1" fill="#FF0000"/>
<rect x="851" y="261" width="1" height="1" fill="#FF0000"/>
</g>
<g font-family="Liberation Sans, sans-serif" font-size="9px" stroke-width="0.15" transform="translate(0,-0.3)" fill="#0000FF" stroke="#0000FF" text-anchor="end">
<text x="1433.2" y="33" textLength="49">0.0 1817.49</text>
<text x="1433.2" y="87" textLength="53.6">23.6 1807.11</text>
<text x="1433.2" y="120" textLength="53.6">38.2 1800.68</text>
<text x="1433.2" y="147" textLength="53.6">50.0 1795.49</text>
<text x="1433.2" y="173" textLength="54">61.8 1790.30</text>
<text x="1433.2" y="206" textLength="59.3">0.764 1783.87</text>
<text x="1433.2" y="260" textLength="58.8">100.0 1773.49</text>
<text x="1433.2" y="313" textLength="58.8">1.236 1763.11</text>
<text x="1433.2" y="400" textLength="58.8">161.8 1746.30</text>
</g>
<g shape-rendering="crispEdges">
<rect x="1370" y="397" width="64" height="2" fill="#FF0000"/>
</g>
<g shape-rendering="crispEdges" fill="none">
<line x1="4" y1="660.5" x2="1434" y2="660.5" stroke="#C0C0C0" stroke-width="1" stroke-dasharray="3,3"/>
<line x1="4" y1="695.5" x2="1434" y2="695.5" stroke="#C0C0C0" stroke-width="1" stroke-dasharray="3,3"/>
<line x1="4" y1="729.5" x2="1434" y2="729.5" stroke="#C0C0C0" stroke-width="1" stroke-dasharray="3,3"/>
<polyline points="3.5,679.2 11.5,684.1 19.5,689.0 27.5,690.4 35.5,689.4 43.5,686.5 51.5,679.6 59.5,687.1 67.5,689.4 75.5,687.5 83.5,697.8 91.5,702.4 99.5,706.3 107.5,694.9 115.5,693.3 123.5,690.4 131.5,693.5 139.5,690.4 147.5,695.3 155.5,691.4 163.5,692.9 171.5,695.5 179.5,692.4 187.5,702.4 195.5,694.5 203.5,693.3 211.5,693.3 219.5,694.7 227.5,693.3 235.5,693.9 243.5,697.3 251.5,695.5 259.5,697.5 267.5,693.3 275.5,691.4 283.5,688.8 291.5,686.3 299.5,679.8 307.5,678.2 315.5,668.4 323.5,675.3 331.5,680.2 339.5,673.3 347.5,676.9 355.5,679.2 363.5,678.6 371.5,682.2 379.5,679.2 387.5,674.9 395.5,673.3 403.5,672.4 411.5,671.0 419.5,671.0 427.5,666.1 435.5,680.2 443.5,683.1 451.5,688.0 459.5,686.5 467.5,688.4 475.5,688.4 483.5,688.4 491.5,687.5 499.5,686.5 507.5,690.4 515.5,692.4 523.5,688.4 531.5,704.1 539.5,686.7 547.5,685.5 555.5,685.5 563.5,682.2 571.5,686.9 579.5,685.5 587.5,687.5 595.5,685.5 603.5,686.5 611.5,687.5 619.5,687.5 627.5,687.5 635.5,677.3 643.5,677.3 651.5,675.9 659.5,674.3 667.5,671.0 675.5,698.4 683.5,697.3 691.5,695.5 699.5,696.5 707.5,700.4 715.5,692.5 723.5,691.4 731.5,688.0 739.5,690.6 747.5,689.4 755.5,691.4 763.5,691.4 771.5,692.5 779.5,693.3 787.5,694.5 795.5,694.5 803.5,690.4 811.5,678.6 819.5,679.6 827.5,678.6 835.5,678.6 843.5,679.6 851.5,693.0 859.5,682.7 867.5,672.4 875.5,675.3 883.5,676.3 891.5,676.3 899.5,670.4 907.5,665.5 915.5,665.5 923.5,668.4 931.5,667.5 939.5,666.5 947.5,665.5 955.5,667.1 963.5,687.1 971.5,685.5 979.5,685.5 987.5,695.3 995.5,684.7 1003.5,688.6 1011.5,692.9 1019.5,694.5 1027.5,690.4 1035.5,686.1 1043.5,684.5 1051.5,682.5 1059.5,681.2 1067.5,692.9 1075.5,698.2 1083.5,699.4 1091.5,697.5 1099.5,695.9 1107.5,684.5 1115.5,685.5 1123.5,685.5 1131.5,686.5" stroke="#9400D3" stroke-width="1"/>
</g>
<g shape-rendering="crispEdges">
<rect x="1435" y="4" width="2" height="1" fill="#000"/>
<rect x="1435" y="37" width="2" height="1" fill="#000"/>
<rect x="1435" y="70" width="2" height="1" fill="#000"/>
<rect x="1435" y="103" width="2" height="1" fill="#000"/>
<rect x="1435" y="136" width="2" height="1" fill="#000"/>
<rect x="1435" y="169" width="2" height="1" fill="#000"/>
<rect x="1435" y="202" width="2" height="1" fill="#000"/>
<rect x="1435" y="235" width="2" height="1" fill="#000"/>
<rect x="1435" y="268" width="2" height="1" fill="#000"/>
<rect x="1435" y="301" width="2" height="1" fill="#000"/>
<rect x="1435" y="334" width="2" height="1" fill="#000"/>
<rect x="1435" y="367" width="2" height="1" fill="#000"/>
<rect x="1435" y="400" width="2" height="1" fill="#000"/>
<rect x="1435" y="433" width="2" height="1" fill="#000"/>
<rect x="1435" y="466" width="2" height="1" fill="#000"/>
<rect x="1435" y="499" width="2" height="1" fill="#000"/>
<rect x="1435" y="532" width="2" height="1" fill="#000"/>
<rect x="1435" y="565" width="2" height="1" fill="#000"/>
<rect x="1435" y="598" width="2" height="1" fill="#000"/>
<rect x="1435" y="631" width="2" height="1" fill="#000"/>
<rect x="1435" y="638" width="1" height="1" fill="#000"/>
<rect x="3" y="754" width="1" height="3" fill="#000"/>
<rect x="67" y="754" width="1" height="3" fill="#000"/>
<rect x="131" y="754" width="1" height="3" fill="#000"/>
<rect x="195" y="754" width="1" height="3" fill="#000"/>
<rect x="259" y="754" width="1" height="3" fill="#000"/>
<rect x="323" y="754" width="1" height="3" fill="#000"/>
<rect x="387" y="754" width="1" height="3" fill="#000"/>
<rect x="451" y="754" width="1" height="3" fill="#000"/>
<rect x="515" y="754" width="1" height="3" fill="#000"/>
<rect x="579" y="754" width="1" height="3" fill="#000"/>
<rect x="643" y="754" width="1" height="3" fill="#000"/>
<rect x="707" y="754" width="1" height="3" fill="#000"/>
<rect x="771" y="754" width="1" height="3" fill="#000"/>
<rect x="835" y="754" width="1" height="3" fill="#000"/>
<rect x="899" y="754" width="1" height="3" fill="#000"/>
<rect x="963" y="754" width="1" height="3" fill="#000"/>
<rect x="1027" y="754" width="1" height="3" fill="#000"/>
<rect x="1091" y="754" width="1" height="3" fill="#000"/>
</g>
<g font-family="Liberation Sans, sans-serif" font-size="9px" stroke-width="0.15" transform="translate(0,-0.3)" fill="#000" stroke="#000">
<text x="1440.3" y="8" textLength="32.7">1823.55</text>
<text x="1440.3" y="41" textLength="32.7">1817.10</text>
<text x="1440.3" y="74" textLength="32.7">1810.80</text>
<text x="1440.3" y="107" textLength="32.7">1804.35</text>
<text x="1440.3" y="140" textLength="32.7">1797.90</text>
<text x="1440.3" y="173" textLength="32.7">1791.45</text>
<text x="1440.3" y="206" textLength="32.7">1785.15</text>
<text x="1440.3" y="239" textLength="32.7">1778.70</text>
<text x="1440.3" y="272" textLength="32.7">1772.25</text>
<text x="1440.3" y="305" textLength="32.7">1765.95</text>
<text x="1440.3" y="338" textLength="32.7">1759.50</text>
<text x="1440.3" y="371" textLength="32.7">1753.05</text>
<text x="1440.3" y="404" textLength="32.7">1746.75</text>
<text x="1440.3" y="437" textLength="32.7">1740.30</text>
<text x="1440.3" y="470" textLength="32.7">1733.85</text>
<text x="1440.3" y="503" textLength="32.7">1727.40</text>
<text x="1440.3" y="536" textLength="32.7">1720.95</text>
<text x="1440.3" y="569" textLength="32.7">1714.65</text>
<text x="1440.3" y="602" textLength="32.7">1708.20</text>
<text x="1440.3" y="635" textLength="32.7">1701.75</text>
<text x="1438.4" y="647">100</text>
<text x="1436.8" y="664">80</text>
<text x="1437.2" y="699">50</text>
<text x="1437.2" y="733">20</text>
<text x="1438.4" y="750">0</text>
<text x="17.9" y="14" textLength="53.9">XAUUSD,H4</text>
<text x="78.5" y="14" textLength="32.3">1809.11</text>
<text x="114.6" y="14" textLength="32.3">1810.12</text>
<text x="150.6" y="14" textLength="32.3">1808.18</text>
<text x="186.6" y="14" textLength="32.3">1808.78</text>
<text x="7.5" y="649" textLength="67.5">RSI(14) 58.0067</text>
<text x="2.8" y="766">11 Jun 2020</text>
<text x="66.8" y="766">12 Jun 21:00</text>
<text x="130.8" y="766">16 Jun 05:00</text>
<text x="194.8" y="766">17 Jun 13:00</text>
<text x="258.8" y="766">18 Jun 21:00</text>
<text x="322.8" y="766">22 Jun 05:00</text>
<text x="386.8" y="766">23 Jun 13:00</text>
<text x="450.8" y="766">24 Jun 21:00</text>
<text x="514.8" y="766">26 Jun 05:00</text>
<text x="578.8" y="766">29 Jun 13:00</text>
<text x="642.8" y="766">30 Jun 21:00</text>
<text x="706.8" y="766">2 Jul 05:00</text>
<text x="770.8" y="766">3 Jul 13:00</text>
<text x="834.8" y="766">7 Jul 01:00</text>
<text x="898.8" y="766">8 Jul 09:00</text>
<text x="962.8" y="766">9 Jul 17:00</text>
<text x="1026.8" y="766">13 Jul 01:00</text>
<text x="1090.8" y="766">14 Jul 09:00</text>
</g>
<g shape-rendering="crispEdges">
<rect x="1436" y="38" width="41" height="11" fill="#FF0000"/>
<rect x="1436" y="186" width="41" height="11" fill="#FF0000"/>
<rect x="1436" y="392" width="41" height="11" fill="#FF0000"/>
<rect x="1436" y="75" width="41" height="11" fill="#000"/>
<rect x="1434" y="43" width="2" height="2" fill="#FF0000"/>
<rect x="1434" y="191" width="2" height="2" fill="#FF0000"/>
<rect x="1434" y="397" width="2" height="2" fill="#FF0000"/>
<rect x="6" y="9" width="7" height="1" fill="#000"/>
<rect x="7" y="10" width="5" height="1" fill="#000"/>
<rect x="8" y="11" width="3" height="1" fill="#000"/>
<rect x="9" y="12" width="1" height="1" fill="#000"/>
</g>
<g font-family="Liberation Sans, sans-serif" font-size="9px" stroke-width="0.15" transform="translate(0,-0.3)" fill="#FFF" stroke="#FFF">
<text x="1440.3" y="47" textLength="32.7">1815.75</text>
<text x="1440.3" y="195" textLength="32.7">1787.04</text>
<text x="1440.3" y="401" textLength="32.7">1747.08</text>
<text x="1440.3" y="84" textLength="32.7">1808.78</text>
</g>
</svg>
</body></html>
